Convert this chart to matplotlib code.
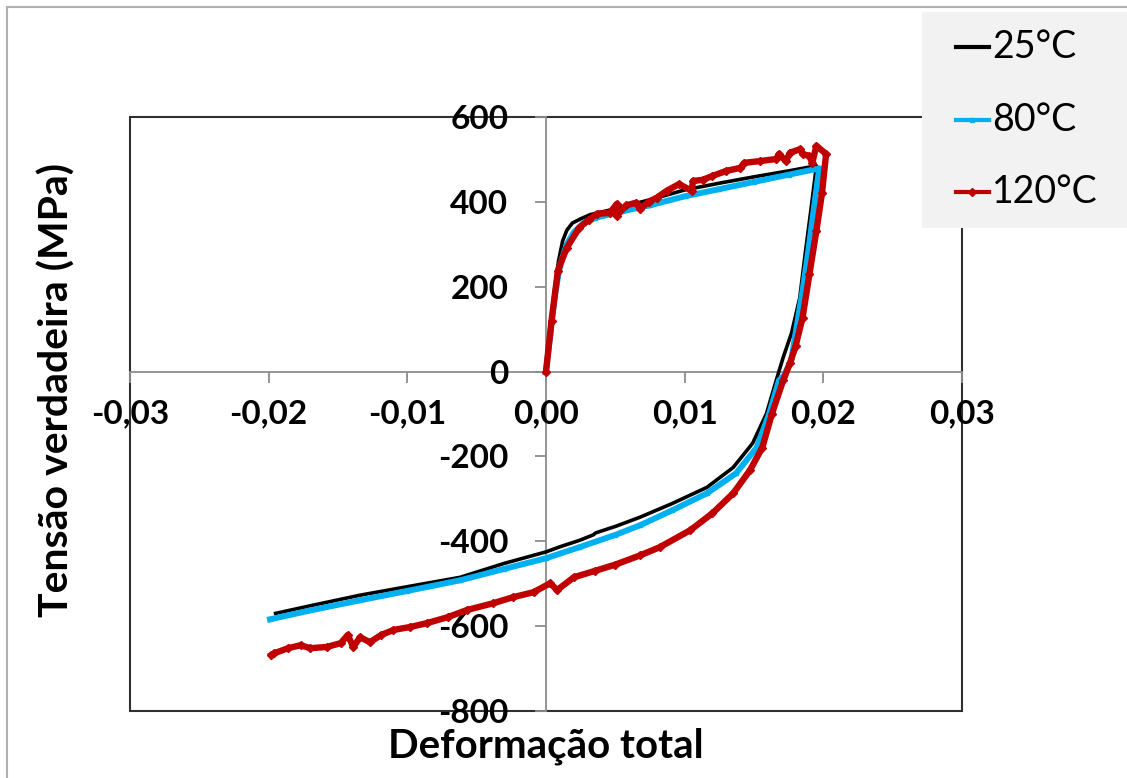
import matplotlib.pyplot as plt
from matplotlib.lines import Line2D
from matplotlib.patches import Rectangle

plt.rcParams['font.family'] = ['Lato', 'DejaVu Sans']

# 25°C loop (strain, true stress in MPa)
strain_25 = [0.0, 0.0003, 0.0006, 0.0009, 0.0012, 0.0015, 0.0019, 0.0025, 0.0032, 0.0044,
             0.0075, 0.0100, 0.0125, 0.0150, 0.0175, 0.0195,
             0.0191, 0.0187, 0.0183, 0.0177, 0.0171, 0.0166, 0.0159, 0.0149, 0.0135,
             0.0116, 0.0091, 0.0068, 0.0050, 0.0036, 0.0034, 0.0024, 0.0010, 0.0000,
             -0.0030, -0.0062, -0.0100, -0.0134, -0.0170, -0.0195]
stress_25 = [0, 100, 190, 260, 308, 333, 350, 360, 370, 379,
             405, 428, 444, 459, 473, 485,
             380, 280, 174, 90, 33, -21, -99, -169, -226,
             -273, -311, -343, -365, -380, -385, -398, -413, -425,
             -452, -485, -507, -527, -552, -570]

# 80°C loop
strain_80 = [0.0, 0.0003, 0.0006, 0.0010, 0.0015, 0.0020, 0.0027, 0.0035, 0.0050, 0.0075,
             0.0100, 0.0125, 0.0150, 0.0175, 0.0197,
             0.0193, 0.0189, 0.0185, 0.0181, 0.0177, 0.0172, 0.0168, 0.0161, 0.0152,
             0.0137, 0.0116, 0.0091, 0.0068, 0.0050, 0.0024, 0.0000,
             -0.0030, -0.0062, -0.0100, -0.0134, -0.0170, -0.0199]
stress_80 = [0, 85, 170, 250, 300, 328, 350, 362, 374, 392,
             413, 430, 447, 464, 479,
             380, 280, 190, 110, 30, -8, -21, -99, -179,
             -240, -287, -327, -362, -385, -414, -440,
             -465, -492, -517, -539, -563, -584]

# 120°C loop
strain_120 = [0.0, 0.0004, 0.00086, 0.0015, 0.0024, 0.0031, 0.0037, 0.0046, 0.0051, 0.0051,
              0.0058, 0.0065, 0.0068, 0.0074, 0.0080, 0.0087, 0.0096, 0.0105, 0.0106, 0.0113,
              0.0120, 0.0130, 0.0140, 0.0143, 0.0154, 0.0166, 0.0168, 0.0173, 0.0176, 0.0183,
              0.0185, 0.0190, 0.0192, 0.0195, 0.0202,
              0.0199, 0.0195, 0.0190, 0.0185, 0.0180, 0.0176, 0.0171, 0.0163, 0.0156, 0.0147,
              0.0135, 0.0120, 0.0104, 0.0082, 0.0068, 0.0050, 0.0035, 0.0020, 0.0008, 0.0003,
              -0.0009, -0.0024, -0.0038, -0.0057, -0.0071, -0.0086, -0.0098, -0.0110, -0.0119,
              -0.0127, -0.0134, -0.0139, -0.0143, -0.0148, -0.0158, -0.0170, -0.0177, -0.0186,
              -0.0196, -0.0198]
stress_120 = [0, 120, 238, 292, 339, 358, 372, 374, 395, 367,
              392, 398, 384, 400, 410, 426, 442, 426, 449, 452,
              461, 473, 480, 492, 496, 501, 513, 496, 516, 524,
              513, 508, 492, 532, 513,
              420, 332, 230, 127, 60, 20, -21, -99, -179, -233,
              -287, -334, -374, -414, -433, -455, -470, -485, -515, -499,
              -520, -532, -546, -562, -579, -593, -602, -609, -621,
              -638, -626, -649, -621, -640, -649, -652, -645, -652,
              -664, -668]

x_ticks = [-0.03, -0.02, -0.01, 0.0, 0.01, 0.02, 0.03]
y_ticks = [-800, -600, -400, -200, 0, 200, 400, 600]

fig = plt.figure(figsize=(11.27, 7.78), dpi=100)
ax = fig.add_axes([130 / 1127, 1 - 711 / 778, 832 / 1127, 594 / 778])

ax.plot(strain_25, stress_25, color='black', lw=2.6, zorder=3)
ax.plot(strain_80, stress_80, color='#00b0f0', lw=4.3, marker='s', ms=2.5, zorder=4)
ax.plot(strain_120, stress_120, color='#c00000', lw=4.6, marker='D', ms=4, zorder=5)

ax.set_xlim(-0.03, 0.03)
ax.set_ylim(-800, 600)

# axes cross at the origin
for side in ('top', 'right'):
    ax.spines[side].set_visible(False)
ax.spines['left'].set_position(('data', 0))
ax.spines['bottom'].set_position(('data', 0))
for side in ('left', 'bottom'):
    ax.spines[side].set_color('#8c8c8c')
    ax.spines[side].set_linewidth(1.3)
    ax.spines[side].set_zorder(1)

ax.set_xticks(x_ticks)
ax.set_xticklabels([f'{v:.2f}'.replace('.', ',') for v in x_ticks])
ax.set_yticks(y_ticks)
ax.set_yticklabels([str(v) for v in y_ticks])
ax.tick_params(axis='both', direction='out', length=8, width=1.3, color='#8c8c8c',
               labelsize=24)
ax.tick_params(axis='y', pad=19)
ax.tick_params(axis='x', pad=12)
for lab in ax.get_xticklabels() + ax.get_yticklabels():
    lab.set_fontweight('bold')

# plot area frame
ax.add_patch(Rectangle((0, 0), 1, 1, transform=ax.transAxes, fill=False,
                       edgecolor='#303030', lw=1.5, clip_on=False, zorder=0))

fig.text(57 / 1127, 1 - 390 / 778, 'Tensão verdadeira (MPa)', rotation=90,
         ha='center', va='center', fontsize=29.5, fontweight='bold')
fig.text(546 / 1127, 1 - 746 / 778, 'Deformação total', ha='center', va='center',
         fontsize=29, fontweight='bold')

# outer chart border
fig.add_artist(Line2D([7 / 1127, 1], [1 - 7 / 778, 1 - 7 / 778], color='#b0b0b0', lw=1.5))
fig.add_artist(Line2D([7 / 1127, 7 / 1127], [0, 1 - 7 / 778], color='#b0b0b0', lw=1.5))

# legend box
fig.add_artist(Rectangle((922 / 1127, 1 - 228 / 778), 205 / 1127, 216 / 778,
                         transform=fig.transFigure, facecolor='#f2f2f2', edgecolor='none'))
legend_rows = [('25°C', 'black', None, 47),
               ('80°C', '#00b0f0', 's', 120),
               ('120°C', '#c00000', 'D', 192)]
for label, color, marker, ypx in legend_rows:
    yf = 1 - ypx / 778
    fig.add_artist(Line2D([956 / 1127, 989 / 1127], [yf, yf], color=color, lw=3))
    if marker:
        fig.add_artist(Line2D([972 / 1127], [yf], color=color, marker=marker,
                              ms=4 if marker == 'D' else 3, lw=0))
    fig.text(992 / 1127, yf, label, ha='left', va='center', fontsize=27)

fig.savefig('out.png', dpi=100)
